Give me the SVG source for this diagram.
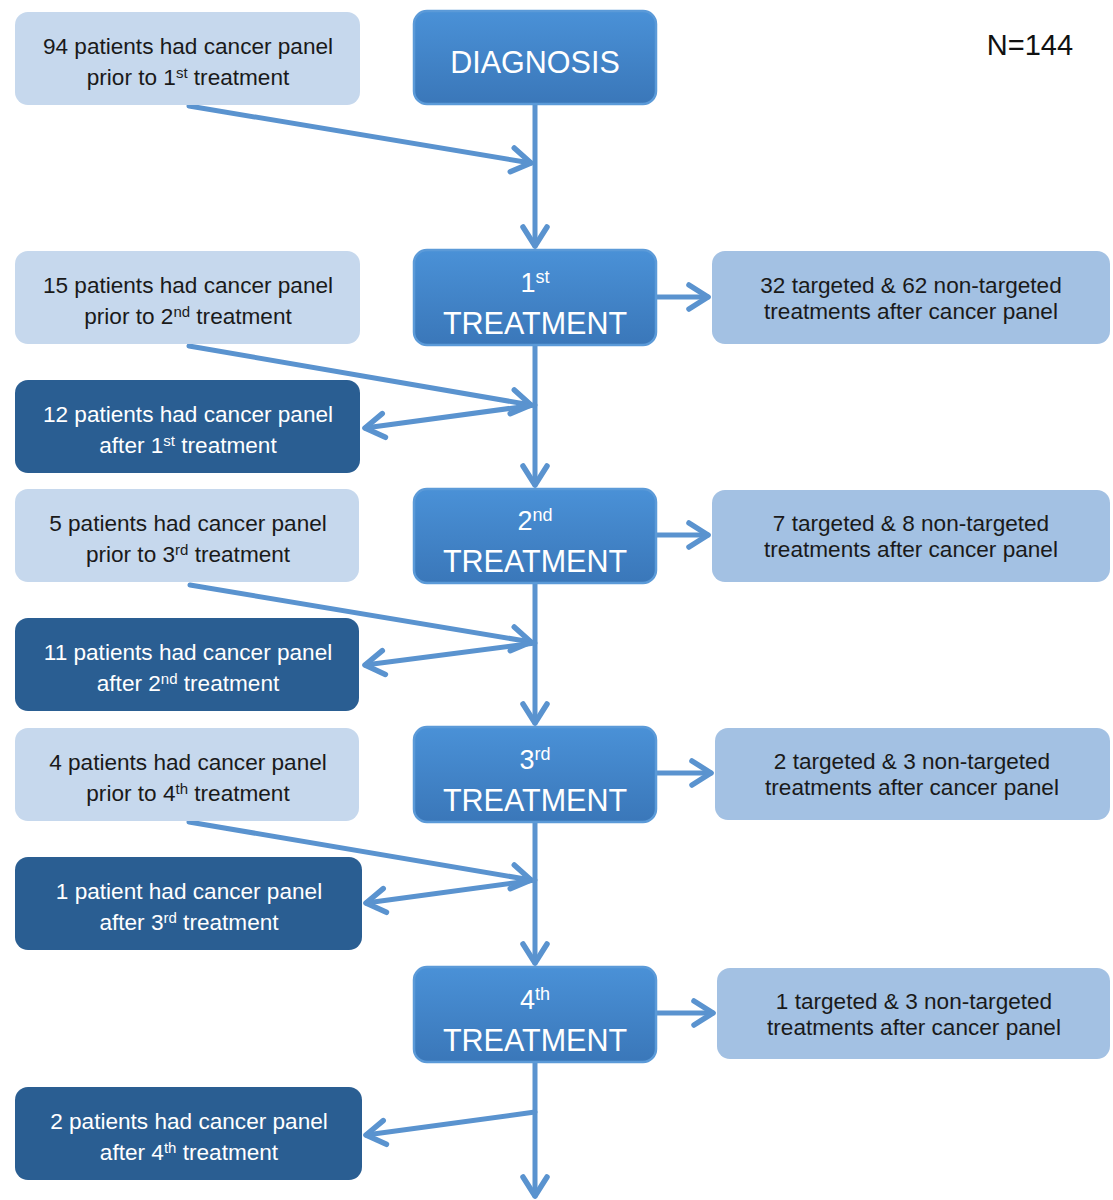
<svg xmlns="http://www.w3.org/2000/svg" width="1113" height="1200" viewBox="0 0 1113 1200">
<defs>
<linearGradient id="gc" x1="0" y1="0" x2="0" y2="1">
<stop offset="0" stop-color="#4a91d7"/>
<stop offset="1" stop-color="#3a77b9"/>
</linearGradient>
<marker id="ah" markerUnits="userSpaceOnUse" viewBox="-24 -16 28 32" refX="0" refY="0" markerWidth="28" markerHeight="32" orient="auto" overflow="visible">
<path d="M-19,-12 L0,0 L-19,12" fill="none" stroke="#5a93cf" stroke-width="5.5" stroke-linecap="round" stroke-linejoin="round"/>
</marker>
</defs>
<style>
text{font-family:"Liberation Sans",Arial,sans-serif;text-anchor:middle}
.lt{fill:#c6d8ed}
.rt{fill:#a3c1e3}
.dk{fill:#2a5e92}
.ct{fill:url(#gc);stroke:#5b9ad8;stroke-width:2.5}
.t{font-size:22.6px;fill:#1a1a1a}
.w{font-size:22.6px;fill:#ffffff}
.big{font-size:30.5px;fill:#ffffff}
.num{font-size:27px;fill:#ffffff}
.c{fill:none;stroke:#5a93cf;stroke-width:5;stroke-linecap:round;marker-end:url(#ah)}
</style>
<rect width="1113" height="1200" fill="#ffffff"/>

<g id="connectors">
<path class="c" d="M535,105 L535,246"/>
<path class="c" d="M189,106 L531,163"/>
<path class="c" d="M535,346 L535,485"/>
<path class="c" d="M189,346 L531,405"/>
<path class="c" d="M535,405 L365,428"/>
<path class="c" d="M535,584 L535,723"/>
<path class="c" d="M190,585 L531,642"/>
<path class="c" d="M535,643 L365,665"/>
<path class="c" d="M535,823 L535,963"/>
<path class="c" d="M189,822 L531,880"/>
<path class="c" d="M535,880 L366,903"/>
<path class="c" d="M535,1063 L535,1196"/>
<path class="c" d="M535,1112 L366,1135"/>
<path class="c" d="M657,297 L708,297"/>
<path class="c" d="M657,535 L708,535"/>
<path class="c" d="M657,773 L711,773"/>
<path class="c" d="M657,1013 L713,1013"/>
</g>

<g id="diagnosis">
<rect class="ct" x="414" y="11" width="242" height="93" rx="13"/>
<text class="big" x="535" y="73">DIAGNOSIS</text>
</g>
<g id="treatment1">
<rect class="ct" x="414" y="250" width="242" height="95" rx="13"/>
<text class="num" x="535" y="292">1<tspan font-size="18" dy="-9">st</tspan></text>
<text class="big" x="535" y="334">TREATMENT</text>
</g>
<g id="treatment2">
<rect class="ct" x="414" y="489" width="242" height="94" rx="13"/>
<text class="num" x="535" y="530">2<tspan font-size="18" dy="-9">nd</tspan></text>
<text class="big" x="535" y="572">TREATMENT</text>
</g>
<g id="treatment3">
<rect class="ct" x="414" y="727" width="242" height="95" rx="13"/>
<text class="num" x="535" y="769">3<tspan font-size="18" dy="-9">rd</tspan></text>
<text class="big" x="535" y="811">TREATMENT</text>
</g>
<g id="treatment4">
<rect class="ct" x="414" y="967" width="242" height="95" rx="13"/>
<text class="num" x="535" y="1009">4<tspan font-size="18" dy="-9">th</tspan></text>
<text class="big" x="535" y="1051">TREATMENT</text>
</g>

<g id="prior1">
<rect class="lt" x="15" y="12" width="345" height="93" rx="13"/>
<text class="t" x="188" y="54">94 patients had cancer panel</text>
<text class="t" x="188" y="85">prior to 1<tspan font-size="15" dy="-7">st</tspan><tspan dy="7"> treatment</tspan></text>
</g>
<g id="prior2">
<rect class="lt" x="15" y="251" width="345" height="93" rx="13"/>
<text class="t" x="188" y="293">15 patients had cancer panel</text>
<text class="t" x="188" y="324">prior to 2<tspan font-size="15" dy="-7">nd</tspan><tspan dy="7"> treatment</tspan></text>
</g>
<g id="prior3">
<rect class="lt" x="15" y="489" width="344" height="93" rx="13"/>
<text class="t" x="188" y="531">5 patients had cancer panel</text>
<text class="t" x="188" y="562">prior to 3<tspan font-size="15" dy="-7">rd</tspan><tspan dy="7"> treatment</tspan></text>
</g>
<g id="prior4">
<rect class="lt" x="15" y="728" width="344" height="93" rx="13"/>
<text class="t" x="188" y="770">4 patients had cancer panel</text>
<text class="t" x="188" y="801">prior to 4<tspan font-size="15" dy="-7">th</tspan><tspan dy="7"> treatment</tspan></text>
</g>

<g id="after1">
<rect class="dk" x="15" y="380" width="345" height="93" rx="13"/>
<text class="w" x="188" y="422">12 patients had cancer panel</text>
<text class="w" x="188" y="453">after 1<tspan font-size="15" dy="-7">st</tspan><tspan dy="7"> treatment</tspan></text>
</g>
<g id="after2">
<rect class="dk" x="15" y="618" width="344" height="93" rx="13"/>
<text class="w" x="188" y="660">11 patients had cancer panel</text>
<text class="w" x="188" y="691">after 2<tspan font-size="15" dy="-7">nd</tspan><tspan dy="7"> treatment</tspan></text>
</g>
<g id="after3">
<rect class="dk" x="15" y="857" width="347" height="93" rx="13"/>
<text class="w" x="189" y="899">1 patient had cancer panel</text>
<text class="w" x="189" y="930">after 3<tspan font-size="15" dy="-7">rd</tspan><tspan dy="7"> treatment</tspan></text>
</g>
<g id="after4">
<rect class="dk" x="15" y="1087" width="347" height="93" rx="13"/>
<text class="w" x="189" y="1129">2 patients had cancer panel</text>
<text class="w" x="189" y="1160">after 4<tspan font-size="15" dy="-7">th</tspan><tspan dy="7"> treatment</tspan></text>
</g>

<g id="result1">
<rect class="rt" x="712" y="251" width="398" height="93" rx="13"/>
<text class="t" x="911" y="293">32 targeted &amp; 62 non-targeted</text>
<text class="t" x="911" y="319">treatments after cancer panel</text>
</g>
<g id="result2">
<rect class="rt" x="712" y="490" width="398" height="92" rx="13"/>
<text class="t" x="911" y="531">7 targeted &amp; 8 non-targeted</text>
<text class="t" x="911" y="557">treatments after cancer panel</text>
</g>
<g id="result3">
<rect class="rt" x="715" y="728" width="395" height="92" rx="13"/>
<text class="t" x="912" y="769">2 targeted &amp; 3 non-targeted</text>
<text class="t" x="912" y="795">treatments after cancer panel</text>
</g>
<g id="result4">
<rect class="rt" x="717" y="968" width="393" height="91" rx="13"/>
<text class="t" x="914" y="1009">1 targeted &amp; 3 non-targeted</text>
<text class="t" x="914" y="1035">treatments after cancer panel</text>
</g>

<g id="total">
<text x="1030" y="55" style="font-size:29px;fill:#111111">N=144</text>
</g>
</svg>
